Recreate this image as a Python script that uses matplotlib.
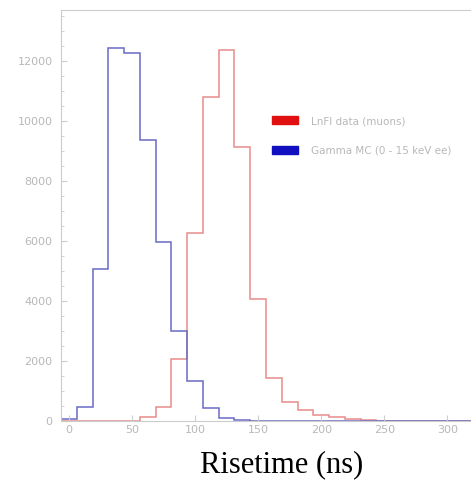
import numpy as np
import matplotlib
matplotlib.use("Agg")
import matplotlib.pyplot as plt
from matplotlib.patches import Patch

# bin edges (ns), 12.5 ns bins centred on multiples of 12.5
bin_width = 12.5
bin_start = -6.25
n_bins = 26

gamma_counts = [80, 470, 5060, 12420, 12270, 9370, 5980, 3010, 1330, 440,
                100, 30, 10, 5, 0, 0, 0, 0, 0, 0, 0, 0, 0, 0, 0, 0]
muon_counts = [0, 0, 0, 0, 0, 120, 470, 2070, 6270, 10800,
               12370, 9140, 4080, 1420, 640, 370, 210, 120, 60, 30,
               10, 5, 0, 0, 0, 0]

labels = ["LnFl data (muons)", "Gamma MC (0 - 15 keV ee)"]
legend_colors = ["#e01010", "#1010c0"]
xticks = [0, 50, 100, 150, 200, 250, 300]
yticks = [0, 2000, 4000, 6000, 8000, 10000, 12000]

edges = bin_start + bin_width * np.arange(n_bins + 1)

fig = plt.figure(figsize=(4.71, 4.82), dpi=100)
ax = fig.add_axes([61/471, (482-421)/482, 1 - 61/471, (421-10)/482])

ax.stairs(muon_counts, edges, color="#e88c8c", linewidth=1.1)
ax.stairs(gamma_counts, edges, color="#6a6ac6", linewidth=1.1)

ax.set_xlim(edges[0], edges[-1])
ax.set_ylim(0, 13700)
ax.set_xticks(xticks)
ax.set_yticks(yticks)
ax.set_yticks(np.arange(0, 13700, 500), minor=True)

grey = "#b8b8b8"
for side in ["left", "bottom", "top"]:
    ax.spines[side].set_color("#cccccc")
    ax.spines[side].set_linewidth(0.8)
ax.spines["right"].set_visible(False)
ax.tick_params(axis="both", which="both", direction="in", colors="#cccccc",
               labelcolor=grey, labelsize=8)
ax.tick_params(axis="y", which="major", length=4, pad=6)
ax.tick_params(axis="y", which="minor", length=2)
ax.tick_params(axis="x", which="major", length=4, pad=3)

handles = [Patch(facecolor=c, edgecolor=c) for c in legend_colors]
leg = fig.legend(handles, labels, loc="upper left",
                 bbox_to_anchor=(272/471, 1 - 116/482), frameon=False,
                 fontsize=7.5, handlelength=2.5, handleheight=0.8,
                 labelspacing=1.9, borderpad=0, borderaxespad=0,
                 handletextpad=1.2)
for t in leg.get_texts():
    t.set_color(grey)

fig.text(282/471, 1 - 465/482, "Risetime (ns)", family="Liberation Serif",
         fontsize=22, ha="center", va="center")

fig.savefig("out.png", dpi=100)
